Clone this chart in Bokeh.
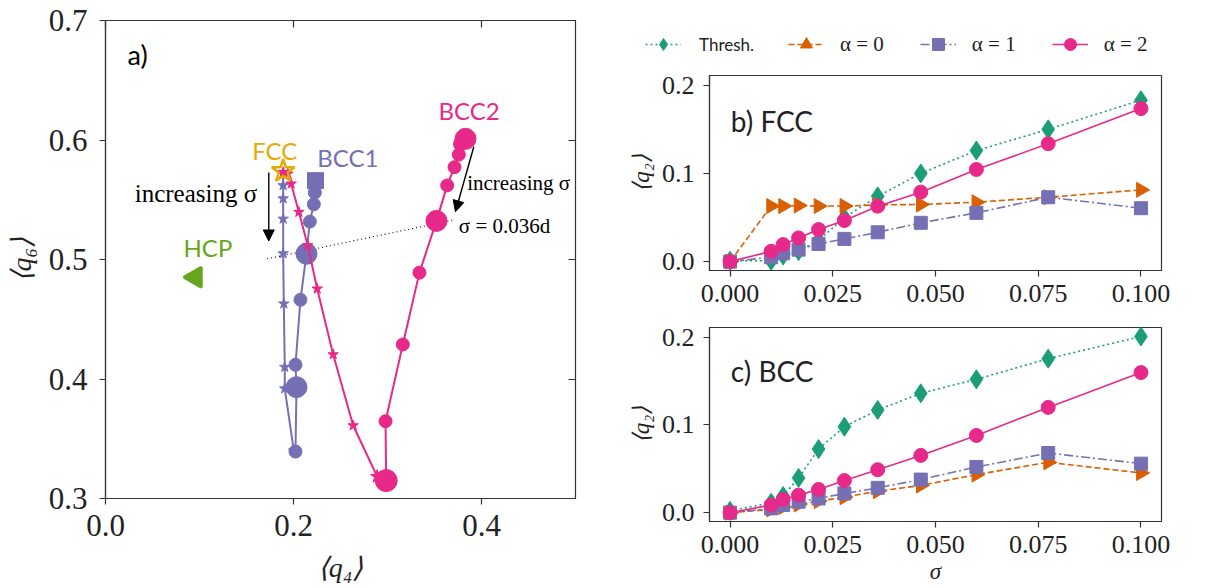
import math
from bokeh.plotting import figure
from bokeh.models import (Range1d, LinearAxis, FixedTicker, PrintfTickFormatter, Label,
                          Arrow, NormalHead, Legend, LegendItem)
from bokeh.layouts import row, column
from bokeh.embed import file_html
from bokeh.resources import INLINE

# ---------------- data: panel a) ----------------
fcc_q4, fcc_q6 = [0.189], [0.574]
bcc1_q4, bcc1_q6 = [0.2234], [0.566]
hcp_q4, hcp_q6 = [0.0957], [0.4852]

a_fcc_a1_q4 = [0.189, 0.189, 0.189, 0.189, 0.189, 0.1897, 0.1907, 0.1907, 0.2003]
a_fcc_a1_q6 = [0.572, 0.562, 0.551, 0.534, 0.505, 0.463, 0.410, 0.392, 0.340]

a_bcc_a1_q4 = [0.2227, 0.2216, 0.2174, 0.2138, 0.2074, 0.2021, 0.2032, 0.2021]
a_bcc_a1_q6 = [0.556, 0.5462, 0.5317, 0.5048, 0.4663, 0.4119, 0.3932, 0.3393]

a_fcc_a2_q4 = [0.189, 0.194, 0.1975, 0.2057, 0.2152, 0.2252, 0.2422, 0.2635, 0.289]
a_fcc_a2_q6 = [0.573, 0.5718, 0.5634, 0.5397, 0.5118, 0.4755, 0.4205, 0.3611, 0.3184]

a_bcc_a2_q4 = [0.383, 0.3777, 0.3759, 0.3713, 0.3635, 0.3521, 0.334, 0.3163, 0.2979, 0.2986]
a_bcc_a2_q6 = [0.601, 0.5967, 0.5878, 0.5773, 0.562, 0.5323, 0.489, 0.4289, 0.3647, 0.315]

iso_q4 = [0.172, 0.370]          # sigma = 0.036d guide line
iso_q6 = [0.5006, 0.533]

# ---------------- data: panels b) and c) ----------------
sigma = [0.0, 0.01, 0.01292, 0.01668, 0.02154, 0.02783, 0.03594, 0.04642, 0.05995, 0.07743, 0.1]

fcc_thresh = [0.001, 0.001, 0.007, 0.012, 0.024, 0.050, 0.074, 0.100, 0.126, 0.150, 0.183]
fcc_alpha0 = [0.0, 0.063, 0.063, 0.0636, 0.063, 0.063, 0.0644, 0.0648, 0.0674, 0.073, 0.0814]
fcc_alpha1 = [0.0, 0.005, 0.0095, 0.0136, 0.020, 0.0258, 0.0333, 0.044, 0.0553, 0.073, 0.0606]
fcc_alpha2 = [0.0, 0.0117, 0.0193, 0.0269, 0.0364, 0.0466, 0.0629, 0.0788, 0.1045, 0.1337, 0.1735]

bcc_thresh = [0.002, 0.0113, 0.019, 0.0396, 0.0725, 0.098, 0.117, 0.136, 0.152, 0.1755, 0.2008]
bcc_alpha0 = [0.0, 0.0037, 0.0064, 0.0094, 0.0132, 0.0177, 0.0245, 0.031, 0.0434, 0.0574, 0.0453]
bcc_alpha1 = [0.0, 0.0049, 0.0087, 0.0125, 0.0162, 0.0219, 0.0283, 0.0377, 0.0521, 0.068, 0.0559]
bcc_alpha2 = [0.0, 0.0087, 0.0151, 0.020, 0.0264, 0.0366, 0.049, 0.0653, 0.088, 0.120, 0.1597]

a_xticks = [0.0, 0.2, 0.4]
a_yticks = [0.3, 0.4, 0.5, 0.6, 0.7]
bc_xticks = [0.0, 0.025, 0.05, 0.075, 0.1]
bc_yticks = [0.0, 0.1, 0.2]

# ---------------- styles ----------------
GREEN, ORANGE, PURPLE, PINK = "#1b9e77", "#d95f02", "#7570b3", "#e7298a"
YELLOW, LGREEN = "#e6ab02", "#66a61e"
SERIF = "Liberation Serif"
SANS = "Lato"
SPINE = "#333333"

def style_axes(p, tick_font, label_font, tick_out=6, std=8, lstd=8):
    p.outline_line_color = SPINE
    p.outline_line_width = 1.2
    p.xgrid.visible = False
    p.ygrid.visible = False
    for ax in p.xaxis + p.yaxis:
        ax.axis_line_color = SPINE
        ax.axis_line_width = 1.2
        ax.major_tick_line_color = SPINE
        ax.major_tick_line_width = 1.2
        ax.major_tick_out = tick_out
        ax.major_tick_in = 0
        ax.minor_tick_line_color = None
        ax.major_label_text_font = SERIF
        ax.major_label_text_font_size = tick_font
        ax.major_label_text_color = "#222222"
        ax.major_label_standoff = std
        ax.axis_label_text_font = SERIF
        ax.axis_label_text_font_size = label_font
        ax.axis_label_text_font_style = "italic"
        ax.axis_label_text_color = "#222222"
        ax.axis_label_standoff = lstd

# ================= panel a) =================
pa = figure(width=600, height=588, output_backend="svg", toolbar_location=None,
            x_range=Range1d(0.0, 0.5), y_range=Range1d(0.3, 0.7),
            min_border_left=105, min_border_right=25, min_border_top=20, min_border_bottom=90,
            x_axis_label="⟨q₄⟩", y_axis_label="⟨q₆⟩")
pa.xaxis.ticker = FixedTicker(ticks=a_xticks)
pa.yaxis.ticker = FixedTicker(ticks=a_yticks)
pa.xaxis.formatter = PrintfTickFormatter(format="%.1f")
pa.yaxis.formatter = PrintfTickFormatter(format="%.1f")
style_axes(pa, "31px", "28px", tick_out=6, std=10, lstd=13)
pa.yaxis.major_label_standoff = 12
pa.yaxis.axis_label_standoff = 9

for loc, tk in (("above", a_xticks), ("right", a_yticks)):
    ax = LinearAxis(ticker=FixedTicker(ticks=tk), major_label_text_font_size="8px",
                    major_label_text_color=None,
                    major_label_standoff=0, axis_line_color=None,
                    major_tick_in=7, major_tick_out=0, major_tick_line_color=SPINE,
                    major_tick_line_width=1.2, minor_tick_line_color=None)
    pa.add_layout(ax, loc)

pa.line(iso_q4, iso_q6, color="black", line_width=1.1, line_dash="1 3")

# alpha = 1 (purple)
pa.line(a_fcc_a1_q4, a_fcc_a1_q6, color=PURPLE, line_width=2)
pa.scatter(a_fcc_a1_q4, a_fcc_a1_q6, marker="star", size=11, color=PURPLE)
pa.line(bcc1_q4 + a_bcc_a1_q4, bcc1_q6 + a_bcc_a1_q6, color=PURPLE, line_width=2)
pa.scatter(a_bcc_a1_q4, a_bcc_a1_q6, marker="circle",
           size=[13, 13, 13, 21, 13, 13, 21, 13], color=PURPLE)
pa.scatter(bcc1_q4, bcc1_q6, marker="square", size=16, color=PURPLE)

# alpha = 2 (pink)
pa.line(a_fcc_a2_q4, a_fcc_a2_q6, color=PINK, line_width=2)
pa.scatter(a_fcc_a2_q4, a_fcc_a2_q6, marker="star", size=[11, 11, 11, 11, 11, 11, 11, 11, 14], color=PINK)
pa.line(a_bcc_a2_q4, a_bcc_a2_q6, color=PINK, line_width=2)
pa.scatter(a_bcc_a2_q4, a_bcc_a2_q6, marker="circle",
           size=[21, 14, 13, 13, 13, 21, 13, 13, 13, 22], color=PINK)

# reference crystals
pa.scatter(fcc_q4, fcc_q6, marker="star", size=24, fill_color=None, line_color=YELLOW, line_width=2.5)
pa.scatter(hcp_q4, hcp_q6, marker="triangle", size=20, angle=math.pi / 2,
           fill_color=LGREEN, line_color=LGREEN, line_width=3)

# arrows and annotations
pa.add_layout(Arrow(end=NormalHead(size=11, fill_color="black", line_color="black"),
                    x_start=0.1737, y_start=0.5727, x_end=0.1737, y_end=0.5155,
                    line_width=1.4, line_color="black"))
pa.add_layout(Arrow(end=NormalHead(size=11, fill_color="black", line_color="black"),
                    x_start=0.3918, y_start=0.5944, x_end=0.3723, y_end=0.5400,
                    line_width=1.4, line_color="black"))

def lab(p, x, y, t, font, size, color="black", align="left", style="normal"):
    p.add_layout(Label(x=x, y=y, text=t, text_font=font, text_font_size=size,
                       text_color=color, text_align=align, text_baseline="middle",
                       text_font_style=style))

lab(pa, 0.1614, 0.555, "increasing σ", SERIF, "25px", align="right")
lab(pa, 0.3848, 0.5637, "increasing σ", SERIF, "21px")
lab(pa, 0.3759, 0.5277, "σ = 0.036d", SERIF, "21px")
lab(pa, 0.0234, 0.6717, "a)", SANS, "27px")
lab(pa, 0.156, 0.5913, "FCC", SANS, "24px", color=YELLOW)
lab(pa, 0.2252, 0.5857, "BCC1", SANS, "24px", color=PURPLE)
lab(pa, 0.3543, 0.6248, "BCC2", SANS, "24px", color=PINK)
lab(pa, 0.083, 0.510, "HCP", SANS, "24px", color=LGREEN)

# ================= panels b) and c) =================
def add_series(p, thresh, a0, a1, a2, visible=True):
    r_t = [p.line(sigma, thresh, color=GREEN, line_width=1.6, line_dash="2 3", visible=visible),
           p.scatter(sigma, thresh, marker="diamond", size=19, color=GREEN, visible=visible)]
    r_0 = [p.line(sigma, a0, color=ORANGE, line_width=1.6, line_dash="6 3", visible=visible),
           p.scatter(sigma, a0, marker="triangle", size=15, angle=-math.pi / 2, color=ORANGE,
                     visible=visible)]
    r_1 = [p.line(sigma, a1, color=PURPLE, line_width=1.6, line_dash="9 3 2 3", visible=visible),
           p.scatter(sigma, a1, marker="square", size=13, color=PURPLE, visible=visible)]
    r_2 = [p.line(sigma, a2, color=PINK, line_width=1.6, visible=visible),
           p.scatter(sigma, a2, marker="circle", size=14, color=PINK, visible=visible)]
    return r_t, r_0, r_1, r_2

def make_panel(height, top, bottom, thresh, a0, a1, a2, title, title_y, xlabel):
    p = figure(width=621, height=height, output_backend="svg", toolbar_location=None,
               x_range=Range1d(-0.005, 0.105), y_range=Range1d(-0.01005, 0.21105),
               min_border_left=109, min_border_right=60, min_border_top=top,
               min_border_bottom=bottom, y_axis_label="⟨q₂⟩", x_axis_label=xlabel)
    p.xaxis.ticker = FixedTicker(ticks=bc_xticks)
    p.yaxis.ticker = FixedTicker(ticks=bc_yticks)
    p.xaxis.formatter = PrintfTickFormatter(format="%.3f")
    p.yaxis.formatter = PrintfTickFormatter(format="%.1f")
    style_axes(p, "26px", "23px", tick_out=6, std=8, lstd=3)
    p.yaxis.major_label_standoff = 9
    p.yaxis.axis_label_standoff = 5
    add_series(p, thresh, a0, a1, a2)
    lab(p, 0.0002, title_y, title, SANS, "28px", color="#222222")
    return p

pb = make_panel(248, 15, 38, fcc_thresh, fcc_alpha0, fcc_alpha1, fcc_alpha2,
                "b) FCC", 0.160, None)
pc = make_panel(280, 19, 67, bcc_thresh, bcc_alpha0, bcc_alpha1, bcc_alpha2,
                "c) BCC", 0.161, "σ")

# legend strip above panel b): same series, hidden, only their legend glyphs show
lf = figure(width=621, height=60, output_backend="svg", toolbar_location=None,
            x_range=Range1d(0, 1), y_range=Range1d(0, 1),
            x_axis_location=None, y_axis_location=None,
            min_border_left=0, min_border_right=0, min_border_top=0, min_border_bottom=0)
lf.outline_line_color = None
lf.grid.visible = False
rt, r0, r1, r2 = add_series(lf, fcc_thresh, fcc_alpha0, fcc_alpha1, fcc_alpha2, visible=False)

common = dict(orientation="horizontal", glyph_width=36, glyph_height=30, label_height=30,
              padding=0, margin=0, border_line_color=None, background_fill_alpha=0,
              inactive_fill_alpha=0, label_text_color="#222222", spacing=36)
leg1 = Legend(items=[LegendItem(label="Thresh.", renderers=rt)], location=(45, 1),
              label_text_font=SANS, label_text_font_size="17px", label_standoff=18, **common)
leg2 = Legend(items=[LegendItem(label="α = 0", renderers=r0),
                     LegendItem(label="α = 1", renderers=r1),
                     LegendItem(label="α = 2", renderers=r2)], location=(188, 1),
              label_text_font=SERIF, label_text_font_size="21px", label_standoff=16, **common)
lf.add_layout(leg1, "center")
lf.add_layout(leg2, "center")

layout = row(pa, column(row(lf), pb, pc))
open("out.html", "w").write(file_html(layout, INLINE))
